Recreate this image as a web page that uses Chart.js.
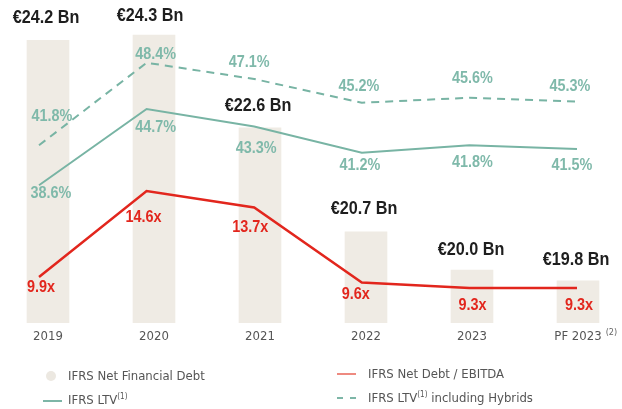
<!DOCTYPE html>
<html>
<head>
<meta charset="utf-8">
<script src="https://cdn.jsdelivr.net/npm/chart.js@4.4.0/dist/chart.umd.min.js"></script>
<style>
  body { margin: 0; background: #fff; }
  #wrap { position: relative; width: 622px; height: 409px; }
  #legend { position: absolute; left: 0; top: 0; width: 622px; height: 409px; pointer-events: none;
    font-family: 'DejaVu Sans Condensed', 'Liberation Sans', sans-serif; font-size: 13px; color: #555; }
  .item { position: absolute; white-space: nowrap; line-height: 16px; height: 16px; }
  .item sup { font-size: 8px; vertical-align: 5px; line-height: 0; }
  .dot { position: absolute; width: 10px; height: 10px; border-radius: 5px; background: #ece8e1; }
  .ln { position: absolute; height: 0; width: 19px; }
</style>
</head>
<body>
<div id="wrap">
  <canvas id="myChart" width="622" height="409"></canvas>
  <div id="legend">
    <div class="dot" style="left:46px; top:371px;"></div>
    <div class="item" style="left:68px; top:368px;">IFRS Net Financial Debt</div>
    <div class="ln" style="left:337px; top:373px; border-top:2px solid #ee8a80;"></div>
    <div class="item" style="left:368px; top:366px;">IFRS Net Debt / EBITDA</div>
    <div class="ln" style="left:43px; top:400px; border-top:2px solid #7db6a7;"></div>
    <div class="item" style="left:68px; top:392px;">IFRS LTV<sup>(1)</sup></div>
    <div class="ln" style="left:337px; top:397px; border-top:2px dashed #7db6a7;"></div>
    <div class="item" style="left:368px; top:390px;">IFRS LTV<sup>(1)</sup> including Hybrids</div>
  </div>
</div>
<script>
var years = ['2019', '2020', '2021', '2022', '2023', 'PF 2023'];
var netDebtBn = [24.2, 24.3, 22.6, 20.7, 20.0, 19.8];
var ltv = [38.6, 44.7, 43.3, 41.2, 41.8, 41.5];
var ltvHybrids = [41.8, 48.4, 47.1, 45.2, 45.6, 45.3];
var debtEbitda = [9.9, 14.6, 13.7, 9.6, 9.3, 9.3];

// label nudges [dx, dy] in px, relative to the bar top / line point
var debtLabelPos = [[-2, -22], [-4, -19], [-2, -22], [-2, -23], [-1, -20], [-2, -21]];
var ltvLabelPos = [[12, 8], [9, 19], [2, 22], [-2, 13], [3, 17], [-5, 17]];
var hybridLabelPos = [[13, -29], [9, -8], [-5, -16], [-3, -16], [3, -19], [-7, -15]];
var ratioLabelPos = [[2, 11], [-3, 27], [-4, 20], [-6, 12], [3, 18], [2, 18]];

var FONT = "'DejaVu Sans Condensed', 'Liberation Sans', sans-serif";
var BOLD = "'Liberation Sans', Arial, sans-serif";
var TEAL = '#78b4a4';
var RED = '#e2261d';

function toPoints(arr) {
    return arr.map(function(v, i) { return { x: i, y: v }; });
}

// draws the value labels next to bars and points (slightly squeezed to look condensed)
var valueLabels = {
    id: 'valueLabels',
    afterDatasetsDraw: function(chart) {
        var ctx = chart.ctx;
        ctx.save();
        ctx.textAlign = 'center';
        ctx.textBaseline = 'middle';
        chart.data.datasets.forEach(function(ds, i) {
            var meta = chart.getDatasetMeta(i);
            meta.data.forEach(function(el, j) {
                var v = ds.values[j];
                var pos = ds.labelPos[j];
                ctx.save();
                ctx.fillStyle = ds.labelColor;
                ctx.font = ds.labelFont;
                ctx.translate(el.x + pos[0], el.y + pos[1]);
                ctx.scale(0.9, 1);
                ctx.fillText(ds.labelText(v), 0, 0);
                ctx.restore();
            });
        });
        // footnote mark after the last tick
        var xs = chart.scales.x;
        var px = xs.getPixelForTick(years.length - 1);
        ctx.font = '13px ' + FONT;
        var w = ctx.measureText(years[years.length - 1]).width;
        ctx.font = '9px ' + FONT;
        ctx.fillStyle = '#666';
        ctx.textAlign = 'left';
        ctx.fillText('(2)', px + w / 2 + 4, 333);
        ctx.restore();
    }
};

var ctx = document.getElementById('myChart').getContext('2d');
var myChart = new Chart(ctx, {
    type: 'bar',
    data: {
        labels: years,
        datasets: [
            {
                type: 'line',
                label: 'IFRS Net Debt / EBITDA',
                data: toPoints(debtEbitda),
                values: debtEbitda,
                xAxisID: 'xLine',
                yAxisID: 'yRatio',
                borderColor: RED,
                borderWidth: 2.5,
                pointRadius: 0,
                tension: 0,
                clip: false,
                order: 1,
                labelColor: RED,
                labelFont: 'bold 16px ' + BOLD,
                labelPos: ratioLabelPos,
                labelText: function(v) { return v.toFixed(1) + 'x'; }
            },
            {
                type: 'line',
                label: 'IFRS LTV',
                data: toPoints(ltv),
                values: ltv,
                xAxisID: 'xLine',
                yAxisID: 'yLtv',
                borderColor: TEAL,
                borderWidth: 2,
                pointRadius: 0,
                tension: 0,
                clip: false,
                order: 2,
                labelColor: '#7fb9aa',
                labelFont: 'bold 16px ' + BOLD,
                labelPos: ltvLabelPos,
                labelText: function(v) { return v.toFixed(1) + '%'; }
            },
            {
                type: 'line',
                label: 'IFRS LTV including Hybrids',
                data: toPoints(ltvHybrids),
                values: ltvHybrids,
                xAxisID: 'xLine',
                yAxisID: 'yLtv',
                borderColor: TEAL,
                borderWidth: 2,
                borderDash: [8, 6],
                pointRadius: 0,
                tension: 0,
                clip: false,
                order: 3,
                labelColor: '#7fb9aa',
                labelFont: 'bold 16px ' + BOLD,
                labelPos: hybridLabelPos,
                labelText: function(v) { return v.toFixed(1) + '%'; }
            },
            {
                label: 'IFRS Net Financial Debt',
                data: netDebtBn,
                values: netDebtBn,
                xAxisID: 'x',
                yAxisID: 'yBar',
                backgroundColor: '#efebe4',
                grouped: false,
                barThickness: 42,
                maxBarThickness: 42,
                base: 19.03,
                clip: { left: 30, right: 30, top: 60, bottom: 0 },
                order: 4,
                labelColor: '#1e1e1e',
                labelFont: 'bold 18px ' + BOLD,
                labelPos: debtLabelPos,
                labelText: function(v) { return '\u20AC' + v.toFixed(1) + ' Bn'; }
            }
        ]
    },
    options: {
        responsive: false,
        animation: false,
        layout: { padding: { left: 48, right: 44, top: 0, bottom: 0 } },
        plugins: {
            legend: { display: false },
            tooltip: { enabled: false }
        },
        scales: {
            x: {
                offset: false,
                grid: { display: false, drawTicks: false },
                border: { display: false },
                ticks: { color: '#555', font: { family: FONT, size: 13 }, padding: 6, maxRotation: 0 },
                afterFit: function(s) { s.height = 86; }
            },
            // the lines sit a little left of the bar centres in the original
            xLine: { type: 'linear', display: false, offset: false, min: 0.0836, max: 5.0093 },
            yBar: { display: false, min: 19.03, max: 24.94 },
            yLtv: { display: false, min: 27.58, max: 53.42 },
            yRatio: { display: false, min: 7.39, max: 25.04 }
        }
    },
    plugins: [valueLabels]
});
</script>
</body>
</html>
